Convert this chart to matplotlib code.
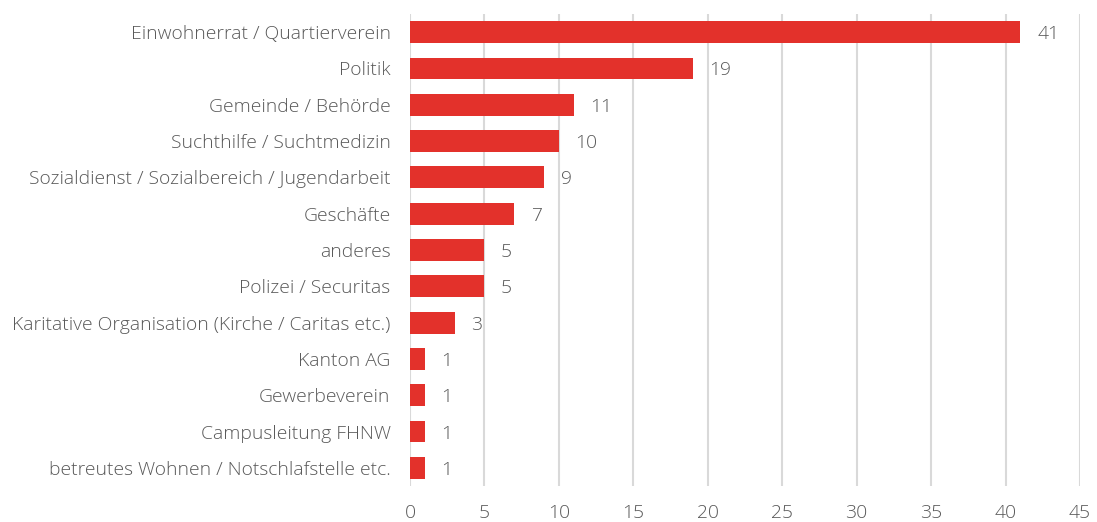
import matplotlib
matplotlib.use("Agg")
import matplotlib.pyplot as plt

categories = [
    "Einwohnerrat / Quartierverein",
    "Politik",
    "Gemeinde / Behörde",
    "Suchthilfe / Suchtmedizin",
    "Sozialdienst / Sozialbereich / Jugendarbeit",
    "Geschäfte",
    "anderes",
    "Polizei / Securitas",
    "Karitative Organisation (Kirche / Caritas etc.)",
    "Kanton AG",
    "Gewerbeverein",
    "Campusleitung FHNW",
    "betreutes Wohnen / Notschlafstelle etc.",
]
values = [41, 19, 11, 10, 9, 7, 5, 5, 3, 1, 1, 1, 1]
xticks = [0, 5, 10, 15, 20, 25, 30, 35, 40, 45]

plt.rcParams['font.family'] = ['Open Sans', 'DejaVu Sans']
text_color = "#595959"
bar_color = "#E3312B"
fs = 13.9

fig = plt.figure(figsize=(10.97, 5.22), dpi=100)
ax = fig.add_axes([410/1097, 1-486/522, 670/1097, 472/522])

y = list(range(len(categories)))
ax.barh(y, values, height=0.6, color=bar_color, zorder=3)
for yi, v in zip(y, values):
    ax.annotate(str(v), (v, yi), xytext=(12, 0), textcoords="offset points",
                ha="left", va="center_baseline", fontsize=fs, color=text_color,
                fontweight="light")

ax.set_ylim(len(categories)-0.5, -0.5)
ax.set_xlim(0, 45)
ax.set_xticks(xticks)
ax.set_yticks(y)
ax.set_yticklabels(categories)
ax.tick_params(axis="both", length=0, labelsize=fs, labelcolor=text_color)
ax.tick_params(axis="y", pad=14)
ax.tick_params(axis="x", pad=13)
for lbl in ax.get_xticklabels() + ax.get_yticklabels():
    lbl.set_fontweight("light")
for s in ax.spines.values():
    s.set_visible(False)
ax.grid(axis="x", color="#D9D9D9", linewidth=1.5, zorder=0)
ax.set_axisbelow(True)

fig.savefig("out.png", dpi=100)
